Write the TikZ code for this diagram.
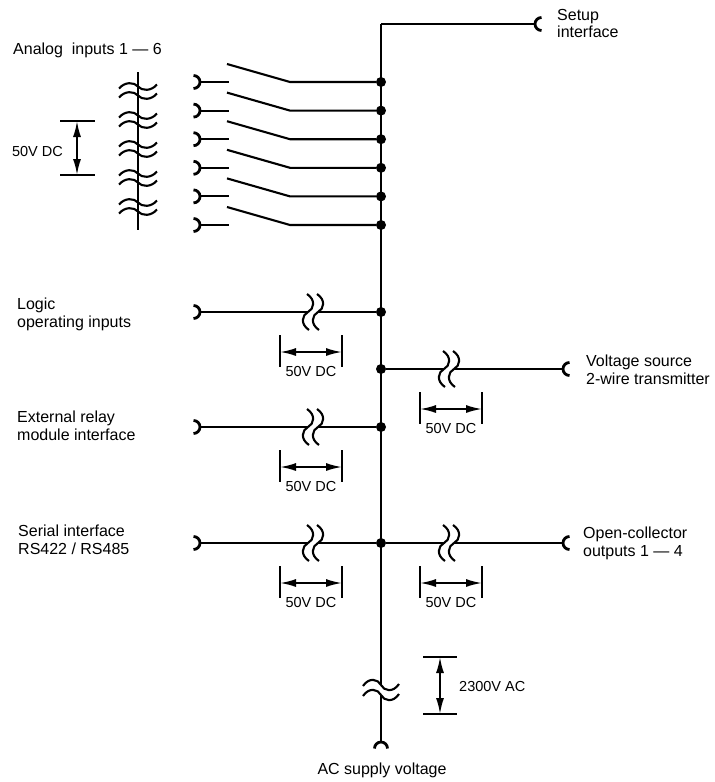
\documentclass[tikz,border=0pt]{standalone}
\usepackage{fontspec}
\setmainfont{Liberation Sans}
\usetikzlibrary{arrows.meta}

\begin{document}
\begin{tikzpicture}[x=1pt,y=1pt,
    wire/.style={line width=2.1pt},
    bus/.style={line width=2.8pt},
    dot/.style={circle,fill,inner sep=0pt,minimum size=10pt},
    txt/.style={font=\fontsize{16}{17.5}\selectfont,align=left,inner sep=0pt,anchor=north west},
    volt/.style={font=\fontsize{14.5}{16}\selectfont,inner sep=0pt},
    bar/.style={line width=1.4pt},
    span/.style={line width=1.8pt,arrows={Latex[length=16pt,width=8pt]-Latex[length=16pt,width=8pt]}},
    jack/.pic={\draw[line width=2.8pt] (-6.5,6.5) arc[start angle=90,end angle=-90,radius=6.5];},
    gap/.pic={\foreach \c in {-5,5}
        \draw[line width=2.1pt] (\c-1,18) .. controls (\c+8,12) and (\c+6,3) .. (\c,0)
          .. controls (\c-6,-3) and (\c-8,-12) .. (\c+1,-18);},
    ripple/.pic={\foreach \c in {-4.5,4.5}
        \draw[line width=2.1pt] (-19,\c-2) .. controls (-13,\c+5) and (-4,\c+4.5) .. (0,\c)
          .. controls (4,\c-4.5) and (13,\c-5) .. (19,\c+2);}
  ]
  \useasboundingbox (0,0) rectangle (715,-782);

  % main bus
  \coordinate (top) at (381,-24);
  \coordinate (acA) at (381,-685);
  \coordinate (acB) at (381,-695);
  \coordinate (bot) at (381,-742);
  \coordinate (setup) at (535,-24);
  \draw[wire] (top) -- (setup);
  \pic[rotate=180] at (setup) {jack};
  \draw[bus] (top) -- (acA) (acB) -- (bot);
  \pic[rotate=90] at (381,-690) {gap};
  \pic[rotate=90] at (bot) {jack};

  % analog inputs with switches
  \foreach \i [evaluate=\i as \y using 82+28.6*(\i-1)] in {1,...,6} {
    \node[dot] (in\i) at (381,-\y) {};
    \coordinate (pv\i) at (290,-\y);
    \coordinate (bl\i) at (227,-\y+18);
    \coordinate (ct\i) at (229,-\y);
    \coordinate (jk\i) at (200,-\y);
    \draw[wire] (in\i) -- (pv\i) -- (bl\i);
    \draw[wire] (jk\i) -- (ct\i);
    \pic at (jk\i) {jack};
  }
  \coordinate (stT) at (138,-72);
  \coordinate (stB) at (138,-230);
  \draw[wire] (stT) -- (stB);
  \foreach \k in {0,...,4}
    \pic at (138,-91-29*\k) {ripple};
  \coordinate (vA) at (77,-121);
  \coordinate (vB) at (77,-175);
  \draw[bar] (60,-121) -- (95,-121) (60,-175) -- (95,-175);
  \draw[span] (vA) -- (vB);
  \node[volt,anchor=east] (dcA) at (63,-152) {50V DC};

  % left branches
  \foreach \y/\n in {312/lo,427/re,543/se} {
    \node[dot] (\n) at (381,-\y) {};
    \coordinate (\n j) at (200,-\y);
    \coordinate (\n g) at (313,-\y);
    \draw[wire] (\n j) -- ([xshift=-5pt]\n g) ([xshift=5pt]\n g) -- (\n);
    \pic at (\n g) {gap};
    \pic at (\n j) {jack};
  }

  % right branches
  \node[dot] (vs) at (381,-369) {};
  \foreach \y/\n/\m in {369/vo/vs,543/oc/se} {
    \coordinate (\n j) at (563,-\y);
    \coordinate (\n g) at (449,-\y);
    \draw[wire] (\m) -- ([xshift=-5pt]\n g) ([xshift=5pt]\n g) -- (\n j);
    \pic at (\n g) {gap};
    \pic[rotate=180] at (\n j) {jack};
  }

  % isolation spans
  \foreach \x/\y in {311/312,311/427,311/543,451/369,451/543} {
    \draw[bar] (\x-31,-\y-23) -- ++(0,-32) (\x+31,-\y-23) -- ++(0,-32);
    \draw[span] (\x-31,-\y-40) -- (\x+31,-\y-40);
    \node[volt,anchor=north] at (\x,-\y-54) {50V DC};
  }
  \coordinate (acT) at (440,-657);
  \coordinate (acD) at (440,-714);
  \draw[bar] (423,-657) -- (457,-657) (423,-714) -- (457,-714);
  \draw[span] (acT) -- (acD);
  \node[volt,anchor=west] (acV) at (459,-686) {2300V AC};

  % labels
  \node[txt] (setupL) at (557,-9) {Setup\\interface};
  \node[txt] (anL) at (13,-43) {Analog\ \ inputs 1 — 6};
  \node[txt] (loL) at (17,-298) {Logic\\operating inputs};
  \node[txt] (reL) at (17,-411) {External relay\\module interface};
  \node[txt] (seL) at (18,-525) {Serial interface\\RS422 / RS485};
  \node[txt] (voL) at (586,-355) {Voltage source\\2-wire transmitter};
  \node[txt] (ocL) at (583,-527) {Open-collector\\outputs 1 — 4};
  \node[txt,anchor=north] (acL) at (382,-763) {AC supply voltage};
\end{tikzpicture}
\end{document}
